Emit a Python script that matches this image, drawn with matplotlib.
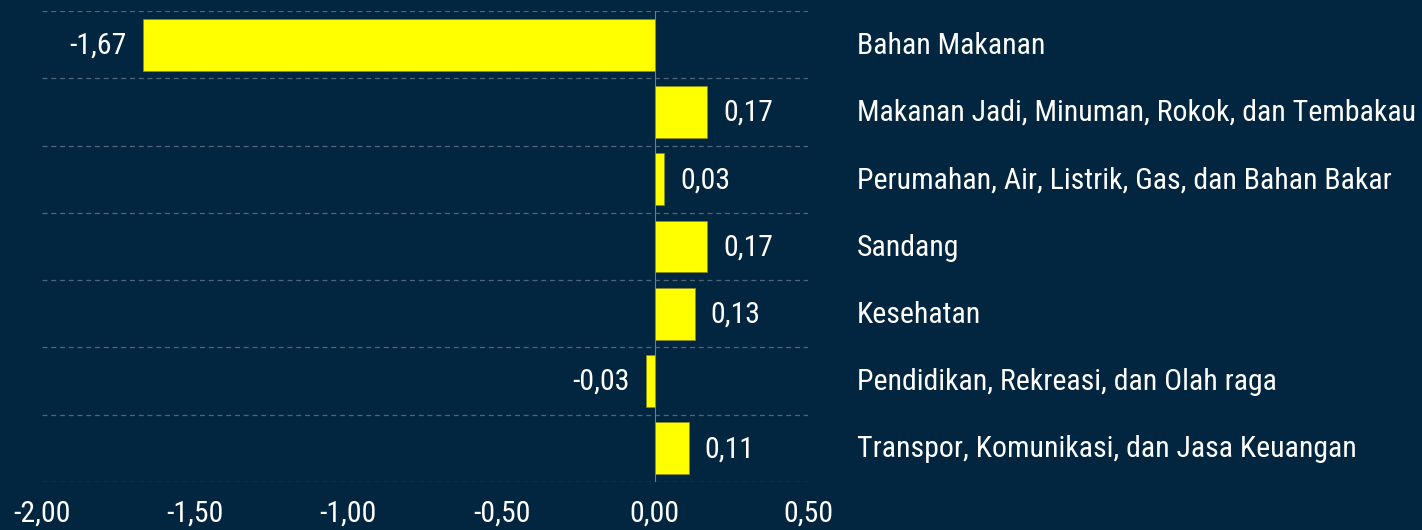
import matplotlib
matplotlib.use("Agg")
import matplotlib.pyplot as plt
from matplotlib.ticker import FuncFormatter
import matplotlib.font_manager as fm

categories = [
    "Bahan Makanan",
    "Makanan Jadi, Minuman, Rokok, dan Tembakau",
    "Perumahan, Air, Listrik, Gas, dan Bahan Bakar",
    "Sandang",
    "Kesehatan",
    "Pendidikan, Rekreasi, dan Olah raga",
    "Transpor, Komunikasi, dan Jasa Keuangan",
]
values = [-1.67, 0.17, 0.03, 0.17, 0.13, -0.03, 0.11]
xticks = [-2.0, -1.5, -1.0, -0.5, 0.0, 0.5]

names = {f.name for f in fm.fontManager.ttflist}
fam = [f for f in ["Roboto Condensed", "Liberation Sans Narrow", "Liberation Sans"] if f in names]
plt.rcParams['font.family'] = fam + ["DejaVu Sans"]

BG = "#02263f"
W, H = 1422, 530
fig = plt.figure(figsize=(W / 100, H / 100), dpi=100, facecolor=BG)
ax = fig.add_axes([42 / W, 1 - 482 / H, (808 - 42) / W, (482 - 11) / H])
ax.set_facecolor(BG)

y = list(range(len(categories)))
ax.barh(y, values, height=0.77, color="#ffff00", edgecolor="#8a8a20", linewidth=0.6, zorder=3)
ax.set_xlim(-2.0, 0.5)
ax.set_ylim(len(categories) - 0.5, -0.5)

for b in [i - 0.5 for i in range(len(categories) + 1)]:
    ax.axhline(b, color="#4d6679", linestyle=(0, (4, 3)), linewidth=0.9, zorder=1)
ax.axvline(0, color="#6d7d8a", linewidth=0.8, zorder=2)

fs = 21.5
for yi, v in zip(y, values):
    txt = f"{v:.2f}".replace(".", ",")
    if v >= 0:
        ax.annotate(txt, (v, yi), xytext=(16, -1), textcoords="offset pixels",
                    ha="left", va="center", color="white", fontsize=fs)
    else:
        ax.annotate(txt, (v, yi), xytext=(-16, -1), textcoords="offset pixels",
                    ha="right", va="center", color="white", fontsize=fs)
    ax.annotate(categories[yi], (0, yi), xycoords=("figure fraction", "data"),
                xytext=(857, -1), textcoords="offset pixels",
                ha="left", va="center", color="white", fontsize=fs)

ax.set_xticks(xticks)
ax.xaxis.set_major_formatter(FuncFormatter(lambda v, p: f"{v:.2f}".replace(".", ",")))
ax.tick_params(axis="x", length=0, pad=13, labelsize=fs, labelcolor="white")
ax.set_yticks([])
for s in ax.spines.values():
    s.set_visible(False)

fig.savefig("out.png", dpi=100, facecolor=BG)
